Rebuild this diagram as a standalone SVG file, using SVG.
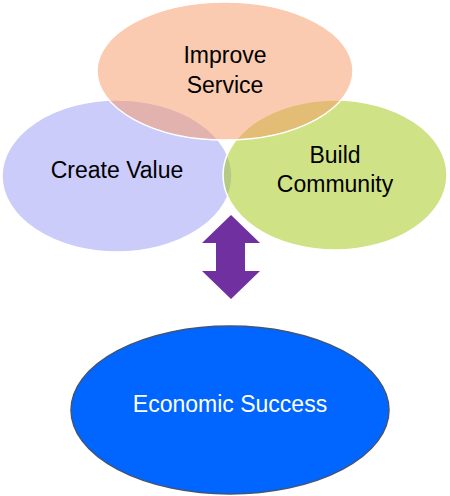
<svg xmlns="http://www.w3.org/2000/svg" width="450" height="496" viewBox="0 0 450 496">
<style>
.venn{stroke:#ffffff;stroke-width:1.5;fill-opacity:0.5}
.t{font-family:"Liberation Sans",Arial,sans-serif;font-size:23px;text-anchor:middle;fill:#000}
.tw{font-family:"Liberation Sans",Arial,sans-serif;font-size:23px;text-anchor:middle;fill:#fff}
</style>
<rect width="450" height="496" fill="#fff"/>
<g id="create-value">
<ellipse class="venn" cx="117" cy="176" rx="115" ry="76" fill="#9999f7"/>
</g>
<g id="build-community">
<ellipse class="venn" cx="335" cy="175" rx="112" ry="75" fill="#9fc70d"/>
</g>
<g id="improve-service">
<ellipse class="venn" cx="225" cy="71" rx="128" ry="69" fill="#f79763"/>
</g>
<g id="labels">
<text class="t" x="225" y="63">Improve</text>
<text class="t" x="225" y="93">Service</text>
<text class="t" x="117" y="178">Create Value</text>
<text class="t" x="335" y="163">Build</text>
<text class="t" x="335" y="192">Community</text>
</g>
<g id="connectors">
<polygon points="231,215 260,243 245,243 245,271 260,271 231,299 202,271 216,271 216,243 202,243" fill="#7030a0"/>
</g>
<g id="economic-success">
<ellipse cx="230" cy="410" rx="159" ry="84" fill="#0066ff" stroke="#41557a" stroke-width="1.5"/>
<text class="tw" x="230" y="412">Economic Success</text>
</g>
</svg>
